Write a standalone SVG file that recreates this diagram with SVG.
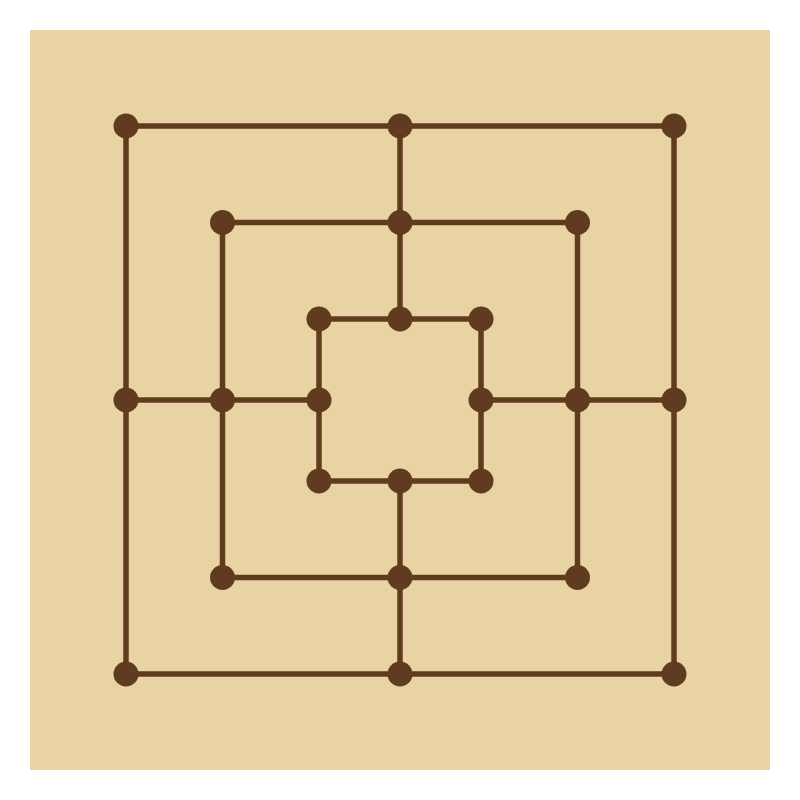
<svg xmlns="http://www.w3.org/2000/svg" width="800" height="800" viewBox="0 0 800 800">
<style>
.ln{stroke:#603c1f;stroke-width:5.5;fill:none}
.pt{fill:#603c1f}
</style>
<rect x="0" y="0" width="800" height="800" fill="#ffffff"/>
<rect x="30" y="30" width="740" height="740" fill="#e9d2a4"/>
<g id="connectors">
<rect class="ln" x="126" y="126" width="548" height="548"/>
<rect class="ln" x="222.5" y="222.5" width="355" height="355"/>
<rect class="ln" x="319" y="319" width="162" height="162"/>
<line class="ln" x1="400" y1="126" x2="400" y2="319"/>
<line class="ln" x1="400" y1="481" x2="400" y2="674"/>
<line class="ln" x1="126" y1="400" x2="319" y2="400"/>
<line class="ln" x1="481" y1="400" x2="674" y2="400"/>
</g>
<g id="nodes">
<g id="outer"><circle class="pt" cx="126" cy="126" r="12.5"/><circle class="pt" cx="400" cy="126" r="12.5"/><circle class="pt" cx="674" cy="126" r="12.5"/><circle class="pt" cx="126" cy="400" r="12.5"/><circle class="pt" cx="674" cy="400" r="12.5"/><circle class="pt" cx="126" cy="674" r="12.5"/><circle class="pt" cx="400" cy="674" r="12.5"/><circle class="pt" cx="674" cy="674" r="12.5"/></g>
<g id="middle"><circle class="pt" cx="222.5" cy="222.5" r="12.5"/><circle class="pt" cx="400" cy="222.5" r="12.5"/><circle class="pt" cx="577.5" cy="222.5" r="12.5"/><circle class="pt" cx="222.5" cy="400" r="12.5"/><circle class="pt" cx="577.5" cy="400" r="12.5"/><circle class="pt" cx="222.5" cy="577.5" r="12.5"/><circle class="pt" cx="400" cy="577.5" r="12.5"/><circle class="pt" cx="577.5" cy="577.5" r="12.5"/></g>
<g id="inner"><circle class="pt" cx="319" cy="319" r="12.5"/><circle class="pt" cx="400" cy="319" r="12.5"/><circle class="pt" cx="481" cy="319" r="12.5"/><circle class="pt" cx="319" cy="400" r="12.5"/><circle class="pt" cx="481" cy="400" r="12.5"/><circle class="pt" cx="319" cy="481" r="12.5"/><circle class="pt" cx="400" cy="481" r="12.5"/><circle class="pt" cx="481" cy="481" r="12.5"/></g>
</g>
</svg>
